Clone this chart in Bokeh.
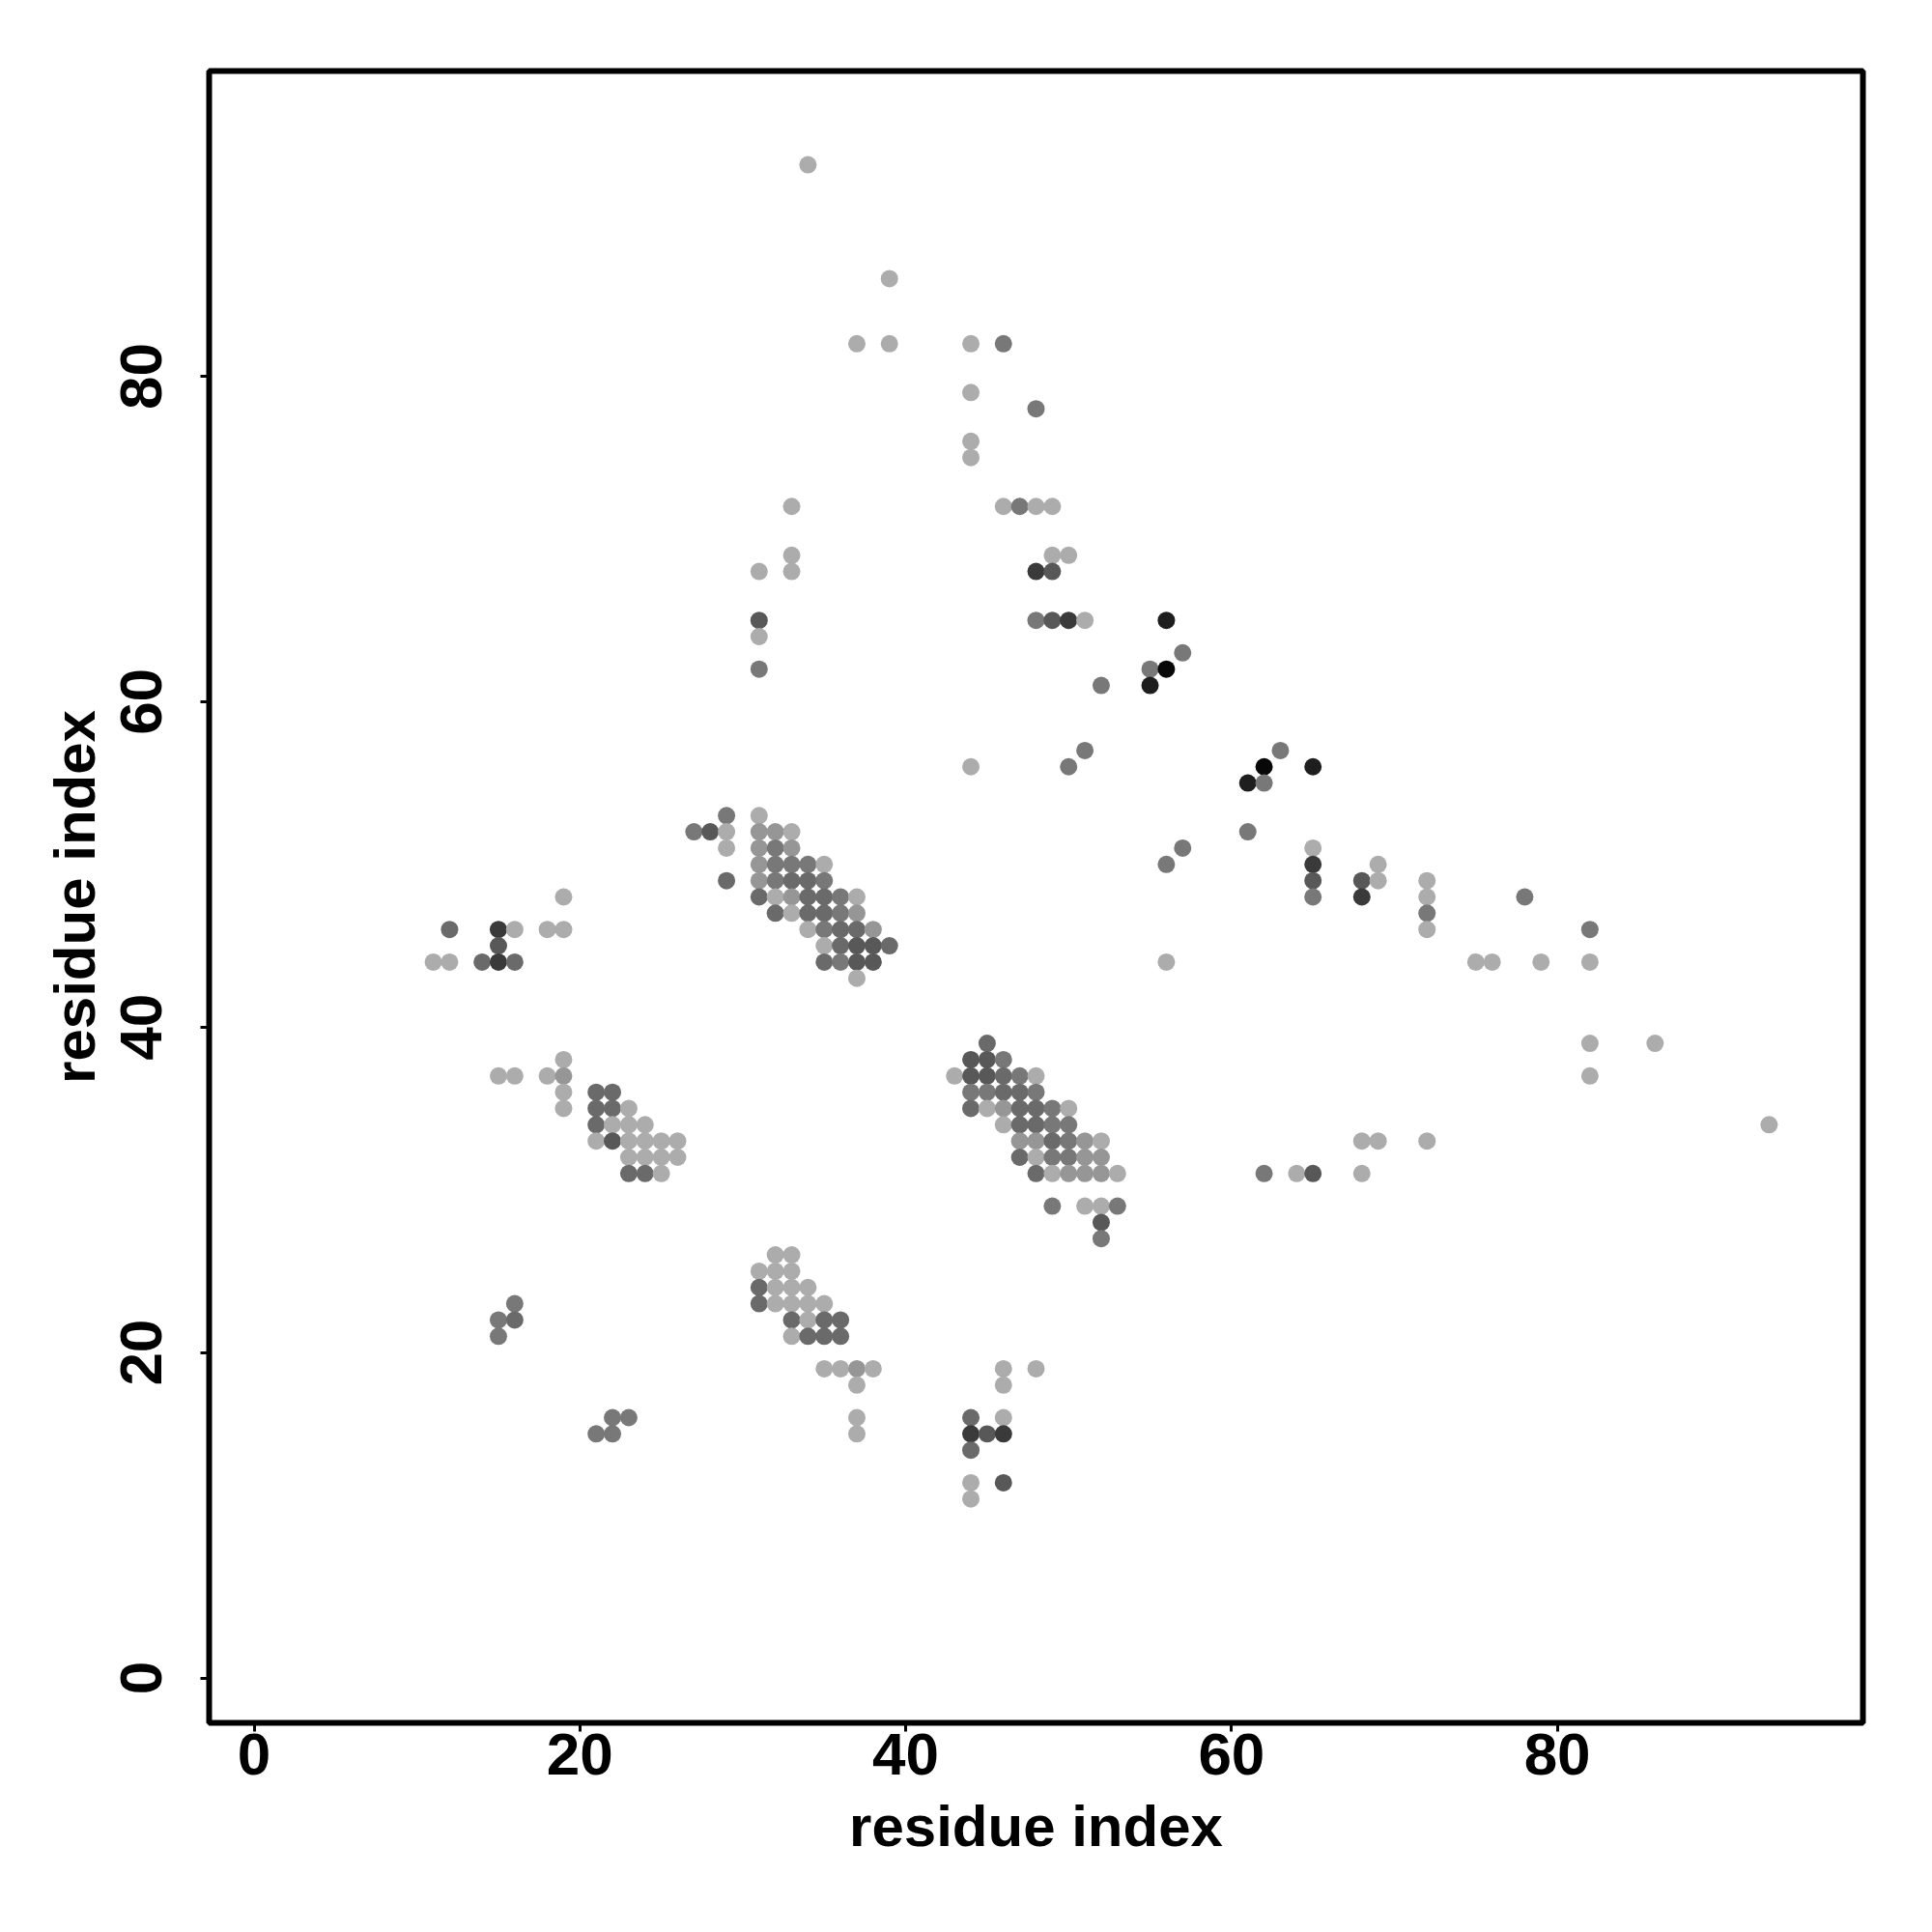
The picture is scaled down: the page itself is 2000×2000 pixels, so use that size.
from bokeh.plotting import figure
from bokeh.models import Range1d, FixedTicker, ColumnDataSource
from bokeh.embed import file_html
from bokeh.resources import INLINE

# gray levels (0 = black, 255 = white)
L, ML, M, MD, D, K, KK, KKK = 172, 150, 120, 106, 88, 58, 30, 8

# contacts: (residue i, residue j, shade)
contacts = [
    # top region
    (34, 93, L), (39, 86, L),
    (37, 82, L), (39, 82, L), (44, 82, L), (46, 82, M),
    (44, 79, L), (48, 78, M), (44, 76, L), (44, 75, L),
    (33, 72, L), (46, 72, L), (47, 72, M), (48, 72, L), (49, 72, L),
    (33, 69, L), (49, 69, L), (50, 69, L),
    (31, 68, L), (33, 68, L), (48, 68, K), (49, 68, D),
    (31, 65, D), (48, 65, M), (49, 65, D), (50, 65, K), (51, 65, L),
    (31, 64, L), (31, 62, M),
    # upper right
    (56, 65, KK), (57, 63, M), (55, 62, M), (56, 62, KKK), (55, 61, KK),
    (52, 61, M), (51, 57, M), (50, 56, M), (44, 56, L),
    (63, 57, M), (62, 56, KKK), (65, 56, KK), (61, 55, KK), (62, 55, M),
    (61, 52, M), (57, 51, M), (56, 50, M),
    (65, 51, L), (65, 50, K), (65, 49, D), (65, 48, M),
    (68, 49, D), (68, 48, K), (69, 50, L), (69, 49, L),
    (56, 44, L),
    # right
    (72, 49, L), (72, 48, L), (72, 47, M), (72, 46, L),
    (78, 48, M), (82, 46, M),
    (75, 44, L), (76, 44, L), (79, 44, L), (82, 44, L),
    (82, 39, L), (86, 39, L), (82, 37, L), (93, 34, L),
    (68, 33, L), (69, 33, L), (72, 33, L),
    (62, 31, M), (64, 31, L), (65, 31, D), (68, 31, L),
    # central upper-left cluster
    (29, 53, M), (31, 53, L),
    (27, 52, M), (28, 52, D), (29, 52, L), (31, 52, ML), (32, 52, ML), (33, 52, L),
    (29, 51, L), (31, 51, ML), (32, 51, M), (33, 51, ML),
    (31, 50, ML), (32, 50, M), (33, 50, M), (34, 50, M), (35, 50, L),
    (29, 49, MD), (31, 49, ML), (32, 49, M), (33, 49, MD), (34, 49, MD), (35, 49, M),
    (31, 48, MD), (32, 48, L), (33, 48, ML), (34, 48, MD), (35, 48, MD), (36, 48, M), (37, 48, L),
    (32, 47, MD), (33, 47, L), (34, 47, MD), (35, 47, MD), (36, 47, M), (37, 47, ML),
    (34, 46, L), (35, 46, M), (36, 46, MD), (37, 46, MD), (38, 46, ML),
    (35, 45, L), (36, 45, MD), (37, 45, D), (38, 45, D), (39, 45, MD),
    (35, 44, MD), (36, 44, M), (37, 44, D), (38, 44, D),
    (37, 43, L),
    # left
    (19, 48, L),
    (12, 46, MD), (15, 46, K), (16, 46, L), (18, 46, L), (19, 46, L),
    (15, 45, D),
    (11, 44, L), (12, 44, L), (14, 44, MD), (15, 44, K), (16, 44, MD),
    (19, 38, L),
    (15, 37, L), (16, 37, L), (18, 37, L), (19, 37, ML),
    (19, 36, L), (19, 35, L),
    (21, 36, MD), (22, 36, MD),
    (21, 35, MD), (22, 35, MD), (23, 35, L),
    (21, 34, MD), (22, 34, L), (23, 34, L), (24, 34, L),
    (21, 33, L), (22, 33, D), (23, 33, L), (24, 33, L), (25, 33, L), (26, 33, L),
    (23, 32, L), (24, 32, L), (25, 32, L), (26, 32, L),
    (23, 31, MD), (24, 31, MD), (25, 31, L),
    # lower left
    (16, 23, M), (15, 22, M), (16, 22, MD), (15, 21, M),
    (22, 16, M), (23, 16, M), (21, 15, M), (22, 15, M),
    (32, 26, L), (33, 26, L),
    (31, 25, L), (32, 25, L), (33, 25, L),
    (31, 24, MD), (32, 24, L), (33, 24, L), (34, 24, L),
    (31, 23, MD), (32, 23, L), (33, 23, L), (34, 23, L), (35, 23, L),
    (33, 22, MD), (34, 22, L), (35, 22, MD), (36, 22, MD),
    (33, 21, L), (34, 21, MD), (35, 21, MD), (36, 21, MD),
    (35, 19, L), (36, 19, L), (37, 19, ML), (38, 19, L),
    (37, 18, L), (37, 16, L), (37, 15, L),
    # central lower-right cluster
    (45, 39, MD),
    (44, 38, D), (45, 38, D), (46, 38, M),
    (43, 37, L), (44, 37, D), (45, 37, D), (46, 37, MD), (47, 37, M), (48, 37, L),
    (44, 36, M), (45, 36, M), (46, 36, MD), (47, 36, MD), (48, 36, M),
    (44, 35, MD), (45, 35, L), (46, 35, ML), (47, 35, MD), (48, 35, MD), (49, 35, M), (50, 35, L),
    (46, 34, L), (47, 34, MD), (48, 34, MD), (49, 34, M), (50, 34, M),
    (47, 33, ML), (48, 33, ML), (49, 33, MD), (50, 33, M), (51, 33, ML), (52, 33, L),
    (47, 32, MD), (48, 32, L), (49, 32, M), (50, 32, M), (51, 32, ML), (52, 32, ML),
    (48, 31, MD), (49, 31, L), (50, 31, ML), (51, 31, ML), (52, 31, ML), (53, 31, L),
    (49, 29, M), (51, 29, L), (52, 29, L), (53, 29, M),
    (52, 28, D), (52, 27, M),
    # bottom middle
    (46, 19, L), (46, 18, L), (48, 19, L),
    (44, 16, MD), (46, 16, L),
    (44, 15, K), (45, 15, D), (46, 15, K),
    (44, 14, MD),
    (44, 12, L), (44, 11, L), (46, 12, D),
]

res_i = [c[0] for c in contacts]
res_j = [c[1] for c in contacts]
shade = [c[2] for c in contacts]

tick_values = [0, 20, 40, 60, 80]
axis_title = "residue index"

colors = ["#%02x%02x%02x" % (g, g, g) for g in shade]
src = ColumnDataSource(dict(x=res_i, y=res_j, c=colors))

FONT = "Liberation Sans"

p = figure(
    frame_width=1712, frame_height=1710,
    x_range=Range1d(-2.76, 98.76), y_range=Range1d(-2.76, 98.76),
    output_backend="svg", toolbar_location=None,
    min_border_left=216, min_border_top=73, min_border_right=56, min_border_bottom=201,
    background_fill_color="white", border_fill_color="white",
)
p.grid.visible = False
p.outline_line_color = "black"
p.outline_line_width = 6

p.scatter("x", "y", source=src, size=18, fill_color="c", line_color=None)

for ax in (p.xaxis[0], p.yaxis[0]):
    ax.ticker = FixedTicker(ticks=tick_values)
    ax.axis_line_color = None
    ax.major_tick_line_width = 3
    ax.major_tick_line_color = "black"
    ax.major_tick_out = 9
    ax.major_tick_in = 0
    ax.minor_tick_line_color = None
    ax.major_label_text_font = FONT
    ax.major_label_text_font_style = "bold"
    ax.major_label_text_font_size = "62px"
    ax.major_label_text_color = "black"
    ax.axis_label = axis_title
    ax.axis_label_text_font = FONT
    ax.axis_label_text_font_style = "bold"
    ax.axis_label_text_font_size = "60px"
    ax.axis_label_text_color = "black"

p.xaxis.major_label_standoff = 2
p.xaxis.axis_label_standoff = 17
p.yaxis.major_label_orientation = "vertical"
p.yaxis.major_label_standoff = 40
p.yaxis.axis_label_standoff = 12

open("out.html", "w").write(file_html(p, INLINE))
